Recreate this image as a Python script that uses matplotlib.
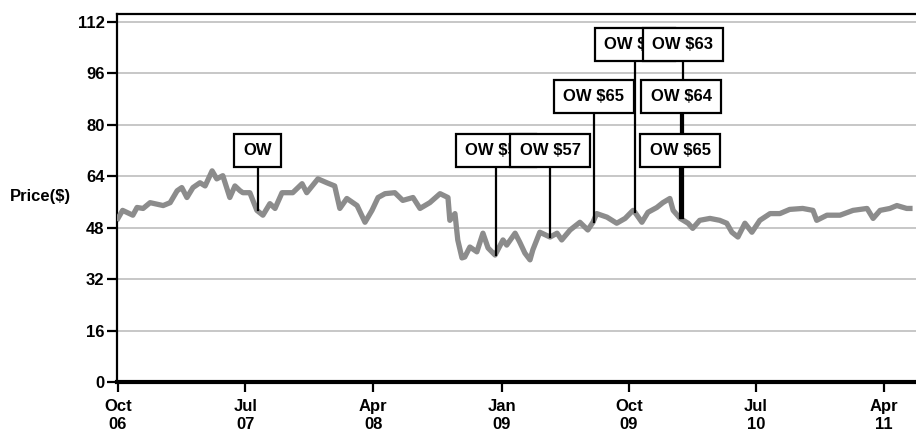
import matplotlib
matplotlib.use("Agg")
import matplotlib.pyplot as plt
import pandas as pd

plt.rcParams['font.family'] = ['Liberation Sans', 'DejaVu Sans']
plt.rcParams['font.weight'] = 'bold'
plt.rcParams['font.size'] = 12

# price series
dates = ['2006-10-01', '2006-10-11', '2006-11-02', '2006-11-11', '2006-11-24', '2006-12-09',
         '2007-01-06', '2007-01-21', '2007-02-05', '2007-02-15', '2007-02-26', '2007-03-11',
         '2007-03-26', '2007-04-06', '2007-04-21', '2007-05-01', '2007-05-14', '2007-05-29',
         '2007-06-09', '2007-06-20', '2007-06-26', '2007-07-11', '2007-07-26', '2007-08-08',
         '2007-08-23', '2007-09-03', '2007-09-18', '2007-10-11', '2007-10-31', '2007-11-10',
         '2007-12-04', '2007-12-23', '2008-01-09', '2008-01-20', '2008-02-04', '2008-02-26',
         '2008-03-14', '2008-03-29', '2008-04-11', '2008-04-26', '2008-05-17', '2008-06-03',
         '2008-06-25', '2008-07-10', '2008-07-31', '2008-08-22', '2008-09-08', '2008-09-12',
         '2008-09-23', '2008-09-29', '2008-10-08', '2008-10-14', '2008-10-25', '2008-11-09',
         '2008-11-22', '2008-12-03', '2008-12-18', '2009-01-04', '2009-01-12', '2009-01-30',
         '2009-02-09', '2009-02-20', '2009-03-03', '2009-03-09', '2009-03-24', '2009-04-15',
         '2009-04-30', '2009-05-10', '2009-05-28', '2009-06-18', '2009-07-05', '2009-07-16',
         '2009-07-24', '2009-08-15', '2009-09-05', '2009-09-23', '2009-10-10', '2009-10-14',
         '2009-10-29', '2009-11-11', '2009-11-30', '2009-12-13', '2009-12-28', '2010-01-04',
         '2010-01-19', '2010-02-05', '2010-02-15', '2010-03-02', '2010-03-24', '2010-04-14',
         '2010-04-29', '2010-05-10', '2010-05-23', '2010-06-07', '2010-06-22', '2010-07-09',
         '2010-07-31', '2010-08-21', '2010-09-11', '2010-10-09', '2010-10-31', '2010-11-08',
         '2010-11-30', '2010-12-28', '2011-01-25', '2011-02-24', '2011-03-09', '2011-03-24',
         '2011-04-14', '2011-04-29', '2011-05-20', '2011-05-27']
prices = [50.9, 53.4, 51.9, 54.3, 54.0, 55.8,
          54.9, 55.8, 59.5, 60.5, 57.4, 60.5,
          62.0, 61.0, 65.7, 63.2, 64.2, 57.4,
          61.0, 59.5, 58.9, 58.9, 53.4, 51.9,
          55.5, 54.0, 58.9, 58.9, 61.7, 58.9,
          63.2, 62.0, 61.0, 54.0, 57.1, 54.9,
          49.7, 53.4, 57.4, 58.6, 58.9, 56.5,
          57.4, 54.0, 55.8, 58.6, 57.4, 50.3,
          52.4, 44.2, 38.6, 38.9, 42.0, 40.5,
          46.3, 41.7, 39.5, 44.2, 42.6, 46.3,
          43.5, 40.1, 38.0, 41.1, 46.6, 45.1,
          46.3, 44.2, 47.3, 49.7, 47.3, 49.7,
          52.4, 51.3, 49.4, 50.9, 53.4, 52.8,
          49.7, 52.8, 54.3, 55.8, 57.1, 53.4,
          50.9, 49.4, 47.8, 50.3, 50.9, 50.3,
          49.4, 46.6, 45.1, 49.4, 46.6, 50.3,
          52.4, 52.4, 53.7, 54.0, 53.4, 50.3,
          51.9, 51.9, 53.4, 54.0, 50.9, 53.4,
          54.0, 54.9, 54.0, 54.0]

# rating flags
ann_dates = ['2007-07-28', '2008-12-20', '2009-04-15', '2009-07-18',
             '2009-10-14', '2010-01-25', '2010-01-21', '2010-01-19']
ann_labels = ['OW', 'OW $55', 'OW $57', 'OW $65', 'OW $60', 'OW $63', 'OW $64', 'OW $65']
ann_prices = [53.4, 39.5, 45.1, 49.7, 52.8, 50.9, 50.9, 50.9]
ann_levels = [72.0, 72.0, 72.0, 88.8, 105.0, 105.0, 88.8, 72.0]

tick_dates = ['2006-10-01', '2007-07-01', '2008-04-01', '2009-01-01',
              '2009-10-01', '2010-07-01', '2011-04-01']
tick_labels = ['Oct\n06', 'Jul\n07', 'Apr\n08', 'Jan\n09', 'Oct\n09', 'Jul\n10', 'Apr\n11']
y_ticks = [0, 16, 32, 48, 64, 80, 96, 112]

fig = plt.figure(figsize=(9.16, 4.37), dpi=100)
ax = fig.add_axes([117/916, 1 - 382/437, 1 - 117/916, (382 - 14)/437])

ax.plot(pd.to_datetime(dates), prices, color='#8c8c8c', lw=3.8, zorder=3,
        solid_joinstyle='round')

for d, lab, p, lev in zip(ann_dates, ann_labels, ann_prices, ann_levels):
    dt = pd.to_datetime(d)
    ax.plot([dt, dt], [p, lev], color='black', lw=1.6, zorder=4)
for d, lab, p, lev in zip(ann_dates, ann_labels, ann_prices, ann_levels):
    dt = pd.to_datetime(d)
    ax.text(dt, lev, lab, ha='center', va='center', fontsize=12, fontweight='bold', zorder=5,
            bbox=dict(boxstyle='square,pad=0.55', fc='white', ec='black', lw=1.6))

ax.set_ylim(0, 114.5)
ax.set_xlim(pd.to_datetime('2006-09-29'), pd.to_datetime('2011-06-09'))
ax.set_yticks(y_ticks)
ax.set_xticks(pd.to_datetime(tick_dates))
ax.set_xticklabels(tick_labels, linespacing=1.3)
ax.yaxis.grid(True, color='#bdbdbd', lw=1.2)
ax.set_axisbelow(True)

ax.spines['right'].set_visible(False)
ax.spines['left'].set_linewidth(1.6)
ax.spines['top'].set_linewidth(1.6)
ax.spines['bottom'].set_linewidth(3.0)
ax.tick_params(axis='y', direction='out', length=7, width=1.6, pad=2, labelsize=12)
ax.tick_params(axis='x', direction='out', length=7, width=1.6, pad=5, labelsize=12)

fig.text(40/916, 1 - 197/437, 'Price($)', ha='center', va='center', fontsize=12, fontweight='bold')

fig.savefig('out.png', dpi=100)
